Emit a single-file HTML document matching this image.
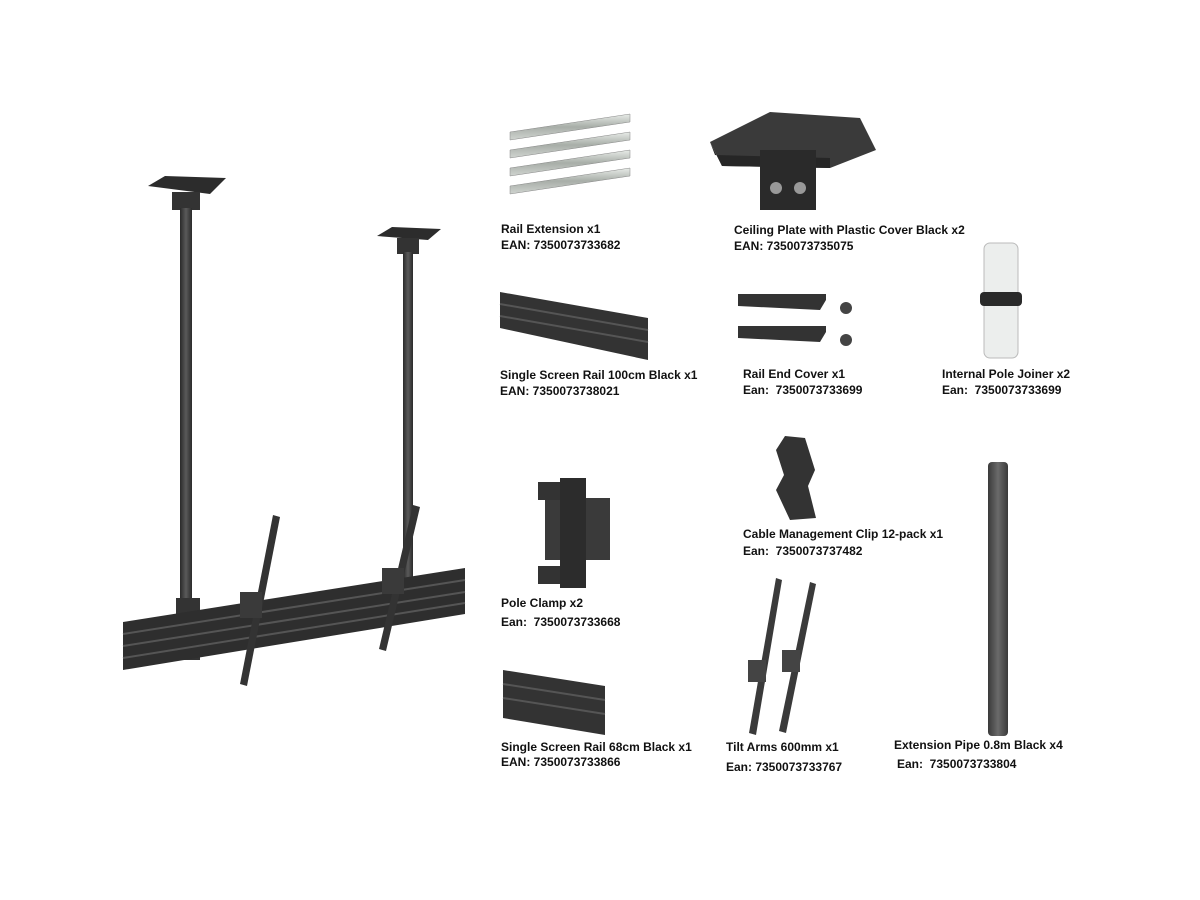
<!DOCTYPE html>
<html><head><meta charset="utf-8"><style>
html,body{margin:0;padding:0;background:#fff;}
svg{display:block}
text{font-family:"Liberation Sans",Arial,sans-serif;font-weight:bold;font-size:12px;fill:#111;white-space:pre}
</style></head><body>
<svg width="1200" height="900" viewBox="0 0 1200 900" xmlns="http://www.w3.org/2000/svg" xml:space="preserve">
<rect width="1200" height="900" fill="#fff"/>
<defs>
<linearGradient id="pole" x1="0" x2="1"><stop offset="0" stop-color="#2a2a2a"/><stop offset=".5" stop-color="#5a5a5a"/><stop offset="1" stop-color="#2a2a2a"/></linearGradient>
<linearGradient id="poleL" x1="0" x2="1"><stop offset="0" stop-color="#3a3a3a"/><stop offset=".5" stop-color="#6a6a6a"/><stop offset="1" stop-color="#3a3a3a"/></linearGradient>
<linearGradient id="silver" x1="0" y1="0" x2="0" y2="1"><stop offset="0" stop-color="#e8ece8"/><stop offset=".5" stop-color="#a8aea8"/><stop offset="1" stop-color="#d0d4d0"/></linearGradient>
</defs>

<polygon points="148,186 165,176 226,178 210,194" fill="#2c2c2c"/>
<rect x="172" y="192" width="28" height="18" fill="#333"/>
<rect x="180" y="208" width="12" height="395" fill="url(#pole)"/>
<polygon points="377,236 392,227 441,229 428,240" fill="#2c2c2c"/>
<rect x="397" y="238" width="22" height="16" fill="#333"/>
<rect x="403" y="252" width="10" height="340" fill="url(#pole)"/>
<rect x="176" y="598" width="24" height="16" fill="#333"/>
<rect x="178" y="648" width="22" height="12" fill="#333"/>
<polygon points="123,622 465,568 465,614 123,670" fill="#2e2e2e"/>
<polyline points="123,634 465,580" stroke="#555" stroke-width="2"/>
<polyline points="123,646 465,592" stroke="#555" stroke-width="2"/>
<polyline points="123,658 465,603" stroke="#555" stroke-width="2"/>
<polygon points="273,515 280,517 247,686 240,684" fill="#333"/>
<rect x="240" y="592" width="22" height="26" fill="#3a3a3a"/>
<polygon points="413,505 420,507 386,651 379,649" fill="#333"/>
<rect x="382" y="568" width="22" height="26" fill="#3a3a3a"/>

<polygon points="510,132 630,114 630,122 510,140" fill="url(#silver)" stroke="#888" stroke-width=".5"/>
<polygon points="510,150 630,132 630,140 510,158" fill="url(#silver)" stroke="#888" stroke-width=".5"/>
<polygon points="510,168 630,150 630,158 510,176" fill="url(#silver)" stroke="#888" stroke-width=".5"/>
<polygon points="510,186 630,168 630,176 510,194" fill="url(#silver)" stroke="#888" stroke-width=".5"/>
<text x="501" y="233">Rail Extension x1</text>
<text x="501" y="249">EAN: 7350073733682</text>

<polygon points="710,142 770,112 860,118 876,150 830,168 722,166" fill="#3a3a3a"/>
<polygon points="710,142 722,166 830,168 830,158 715,155" fill="#262626"/>
<rect x="760" y="150" width="56" height="60" fill="#2a2a2a"/>
<circle cx="776" cy="188" r="6" fill="#999"/><circle cx="800" cy="188" r="6" fill="#999"/>
<text x="734" y="234">Ceiling Plate with Plastic Cover Black x2</text>
<text x="734" y="250">EAN: 7350073735075</text>

<polygon points="500,292 648,318 648,360 500,328" fill="#333"/>
<polyline points="500,304 648,330" stroke="#555" stroke-width="2"/>
<polyline points="500,316 648,342" stroke="#555" stroke-width="2"/>
<text x="500" y="379">Single Screen Rail 100cm Black x1</text>
<text x="500" y="395">EAN: 7350073738021</text>

<polygon points="738,294 826,294 826,300 820,310 738,306" fill="#333"/>
<polygon points="738,326 826,326 826,332 820,342 738,338" fill="#333"/>
<circle cx="846" cy="308" r="6" fill="#444"/><circle cx="846" cy="340" r="6" fill="#444"/>
<text x="743" y="378">Rail End Cover x1</text>
<text x="743" y="394">Ean:  7350073733699</text>

<rect x="984" y="243" width="34" height="115" rx="6" fill="#eceeed" stroke="#bbb"/>
<rect x="980" y="292" width="42" height="14" rx="4" fill="#2a2a2a"/>
<text x="942" y="378">Internal Pole Joiner x2</text>
<text x="942" y="394">Ean:  7350073733699</text>

<polygon points="785,436 805,438 815,470 808,486 816,518 790,520 776,490 784,475 776,450" fill="#333"/>
<text x="743" y="538">Cable Management Clip 12-pack x1</text>
<text x="743" y="555">Ean:  7350073737482</text>

<rect x="988" y="462" width="20" height="274" rx="4" fill="url(#poleL)"/>
<text x="894" y="749">Extension Pipe 0.8m Black x4</text>
<text x="897" y="768">Ean:  7350073733804</text>

<rect x="545" y="498" width="65" height="62" fill="#3a3a3a"/>
<rect x="560" y="478" width="26" height="110" fill="#2c2c2c"/>
<rect x="538" y="482" width="22" height="18" fill="#333"/>
<rect x="538" y="566" width="22" height="18" fill="#333"/>
<text x="501" y="607">Pole Clamp x2</text>
<text x="501" y="626">Ean:  7350073733668</text>

<polygon points="503,670 605,686 605,735 503,718" fill="#333"/>
<polyline points="503,684 605,700" stroke="#555" stroke-width="2"/>
<polyline points="503,698 605,714" stroke="#555" stroke-width="2"/>
<text x="501" y="751">Single Screen Rail 68cm Black x1</text>
<text x="501" y="766">EAN: 7350073733866</text>

<polygon points="776,578 782,580 756,735 749,733" fill="#3a3a3a"/>
<polygon points="810,582 816,584 786,733 779,731" fill="#3a3a3a"/>
<rect x="748" y="660" width="18" height="22" fill="#444"/>
<rect x="782" y="650" width="18" height="22" fill="#444"/>
<text x="726" y="751">Tilt Arms 600mm x1</text>
<text x="726" y="771">Ean: 7350073733767</text>
</svg>
</body></html>
